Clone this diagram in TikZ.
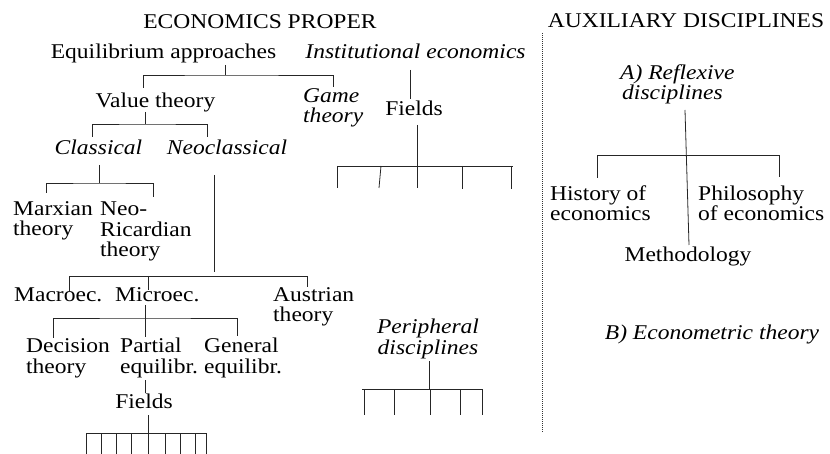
\documentclass[tikz,border=0pt]{standalone}
\usepackage{fontspec}
\setmainfont{Liberation Serif}[FakeStretch=1.12]
\begin{document}
\begin{tikzpicture}[x=1pt,y=-1pt,
  txt/.style={inner sep=0pt, font=\fontsize{21}{20.5}\selectfont},
  itx/.style={txt, font=\fontsize{21}{20.5}\selectfont\itshape},
  conn/.style={line width=0.8pt, black!85},
  sep/.style={line width=0.8pt, black!80, dash pattern=on 1pt off 1pt}]
\useasboundingbox (0,0) rectangle (830,454);

% headings
\node[txt, anchor=base] (hProper) at (260,29) {ECONOMICS PROPER};
\node[txt, anchor=base] (hAux) at (686,28) {AUXILIARY DISCIPLINES};

% economics proper (multi-line nodes: base = last line)
\node[txt, anchor=base] (eq) at (163.5,59) {Equilibrium approaches};
\node[itx, anchor=base] (inst) at (415.5,59) {Institutional economics};
\node[txt, anchor=base] (value) at (155.5,108) {Value theory};
\node[itx, anchor=base west, align=left] (game) at (303,123) {Game\\theory};
\node[txt, anchor=base] (fields1) at (414,116) {Fields};
\node[itx, anchor=base] (classical) at (98.5,155) {Classical};
\node[itx, anchor=base] (neo) at (227,155) {Neoclassical};
\node[txt, anchor=base west, align=left] (marx) at (13,236) {Marxian\\theory};
\node[txt, anchor=base west, align=left] (ricardo) at (100,257) {Neo-\\Ricardian\\theory};
\node[txt, anchor=base west] (macro) at (14,302) {Macroec.};
\node[txt, anchor=base west] (micro) at (115,302) {Microec.};
\node[txt, anchor=base west, align=left] (austrian) at (273,322) {Austrian\\theory};
\node[txt, anchor=base west, align=left] (decision) at (26,373) {Decision\\theory};
\node[txt, anchor=base west, align=left] (partial) at (120,373) {Partial\\equilibr.};
\node[txt, anchor=base west, align=left] (general) at (204,373) {General\\equilibr.};
\node[txt, anchor=base] (fields2) at (144,408) {Fields};
\node[itx, anchor=base, align=center] (periph) at (428,354) {Peripheral\\disciplines};

% auxiliary disciplines
\node[itx, anchor=base west, align=left] (reflex) at (620,100) {A) Reflexive\\\hspace*{2pt}disciplines};
\node[txt, anchor=base west, align=left] (history) at (550,221) {History of\\economics};
\node[txt, anchor=base west, align=left] (philo) at (698,221) {Philosophy\\of economics};
\node[txt, anchor=base] (method) at (688,262) {Methodology};
\node[itx, anchor=base] (econom) at (712,339) {B) Econometric theory};

% separator
\coordinate (sepT) at (542,33); \coordinate (sepB) at (542,433);
\draw[sep] (sepT) -- (sepB);

% Equilibrium fork
\coordinate (eqs) at (225,65); \coordinate (eqj) at (225,75);
\coordinate (eql) at (143,88); \coordinate (eqr) at (333,87);
\draw[conn] (eqs) -- (eqj);
\draw[conn] (eql) |- (eqj) -| (eqr);

% Institutional -> Fields
\coordinate (ins1) at (410,70); \coordinate (ins2) at (410,99);
\draw[conn] (ins1) -- (ins2);

% Fields (institutional) fork
\coordinate (f1s) at (417,125); \coordinate (f1b) at (417,188);
\coordinate (f1l) at (337,166); \coordinate (f1r) at (513,166);
\draw[conn] (f1s) -- (f1b);
\draw[conn] (f1l) -- (f1r);
\coordinate (f1a) at (337,188);
\coordinate (f1c0) at (381,166); \coordinate (f1c) at (379,188);
\coordinate (f1d0) at (462,166); \coordinate (f1d) at (462,189);
\coordinate (f1e0) at (511,166); \coordinate (f1e) at (511,189);
\draw[conn] (f1l) -- (f1a);
\draw[conn] (f1c0) -- (f1c);
\draw[conn] (f1d0) -- (f1d);
\draw[conn] (f1e0) -- (f1e);

% Value theory fork
\coordinate (vs) at (145,112); \coordinate (vj) at (145,124);
\coordinate (vl) at (92,137); \coordinate (vr) at (207,137);
\draw[conn] (vs) -- (vj);
\draw[conn] (vl) |- (vj) -| (vr);

% Classical fork
\coordinate (cs) at (99,165); \coordinate (cj) at (99,183);
\coordinate (cl) at (46,193); \coordinate (cr) at (153,197);
\draw[conn] (cs) -- (cj);
\draw[conn] (cl) |- (cj) -| (cr);

% Neoclassical fork
\coordinate (ns) at (214,175); \coordinate (ne) at (214,272);
\draw[conn] (ns) -- (ne);
\coordinate (nl0) at (69,276); \coordinate (nl) at (69,292);
\coordinate (nm0) at (148,276); \coordinate (nm) at (148,290);
\coordinate (nr0) at (307,276); \coordinate (nr) at (307,287);
\draw[conn] (nl) -- (nl0) -- (nr0) -- (nr);
\draw[conn] (nm0) -- (nm);

% Microec fork
\coordinate (ms) at (145,305); \coordinate (mb) at (145,337);
\coordinate (mj) at (145,318);
\coordinate (ml) at (53,338); \coordinate (mr) at (237,336);
\draw[conn] (ms) -- (mb);
\draw[conn] (ml) |- (mj) -| (mr);

% Partial -> Fields
\coordinate (p1) at (145,380); \coordinate (p2) at (145,393);
\draw[conn] (p1) -- (p2);

% Fields (lower) fork
\coordinate (f2s) at (148,415); \coordinate (f2j) at (148,433);
\coordinate (f2l) at (86,433); \coordinate (f2r) at (206,433);
\draw[conn] (f2s) -- (f2j);
\draw[conn] (f2l) -- (f2r);
\foreach \x [count=\i] in {86,101,116,131,148,165,180,195,206}{
  \coordinate (f2t\i) at (\x,433); \coordinate (f2b\i) at (\x,455);
  \draw[conn] (f2t\i) -- (f2b\i);
}

% Peripheral fork
\coordinate (ps) at (429,361); \coordinate (pj) at (429,389);
\coordinate (pl) at (362,389); \coordinate (pr) at (482,389);
\draw[conn] (ps) -- (pj);
\draw[conn] (pl) -- (pr);
\foreach \x [count=\i] in {364,394,430,460,482}{
  \coordinate (pt\i) at (\x,389); \coordinate (pb\i) at (\x,415);
  \draw[conn] (pt\i) -- (pb\i);
}

% Reflexive fork
\coordinate (rs) at (685,110); \coordinate (re) at (689,245);
\draw[conn] (rs) -- (re);
\coordinate (rl0) at (597,155); \coordinate (rl) at (597,178);
\coordinate (rr0) at (779,155); \coordinate (rr) at (779,177);
\draw[conn] (rl) -- (rl0) -- (rr0) -- (rr);
\end{tikzpicture}
\end{document}
